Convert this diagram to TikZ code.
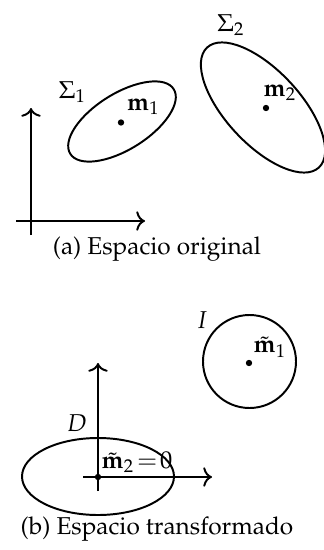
\documentclass[tikz,border=0pt]{standalone}
\usepackage[T1]{fontenc}
\usepackage{mathpazo}
\usetikzlibrary{arrows.meta}
\begin{document}
\begin{tikzpicture}[x=0.41pt,y=-0.41pt,
  curve/.style={line width=0.8pt},
  axis/.style={-{To[length=3.6pt,width=8pt]}, line width=0.8pt},
  dotmark/.style={circle, fill, inner sep=0pt, minimum size=2.6pt},
  lbl/.style={inner sep=0pt}]
\useasboundingbox (0,0) rectangle (324,550);
% ---------- (a) ----------
\coordinate (v1s) at (31,235);
\coordinate (v1e) at (31,108);
\coordinate (h1s) at (16,221);
\coordinate (h1e) at (145,221);
\draw[axis] (v1s) -- (v1e);
\draw[axis] (h1s) -- (h1e);
\draw[curve, rotate around={32:(122,121.5)}] (122,121.5) ellipse [x radius=61, y radius=28];
\draw[curve, rotate around={-47:(263,107.5)}] (263,107.5) ellipse [x radius=82, y radius=37];
\node[dotmark] (d1) at (121,122.5) {};
\node[dotmark] (d2) at (266,108) {};
\node[lbl] (m1) at (143.5,107) {$\mathbf{m}_1$};
\node[lbl] (m2) at (280,93) {$\mathbf{m}_2$};
\node[lbl] (S1) at (72.5,92) {$\Sigma_1$};
\node[lbl] (S2) at (231,25) {$\Sigma_2$};
\node[lbl] (capA) at (157,249) {(a) Espacio original};
% ---------- (b) ----------
\coordinate (v2s) at (98,491);
\coordinate (v2e) at (98,363);
\coordinate (h2s) at (83,477);
\coordinate (h2e) at (212,477);
\draw[axis] (v2s) -- (v2e);
\draw[axis] (h2s) -- (h2e);
\draw[curve] (249.5,361.5) circle [radius=46.5];
\draw[curve] (98,476.5) ellipse [x radius=76, y radius=38.5];
\node[dotmark] (d3) at (249,363) {};
\node[dotmark] (d4) at (98,477) {};
\node[lbl] (mt1) at (270,347) {$\tilde{\mathbf{m}}_1$};
\node[lbl] (I) at (202,320) {$I$};
\node[lbl] (D) at (77,423) {$D$};
\node[lbl] (mt2) at (137,462) {$\tilde{\mathbf{m}}_2\!=\!0$};
\node[lbl] (capB) at (157,529) {(b) Espacio transformado};
\end{tikzpicture}
\end{document}
